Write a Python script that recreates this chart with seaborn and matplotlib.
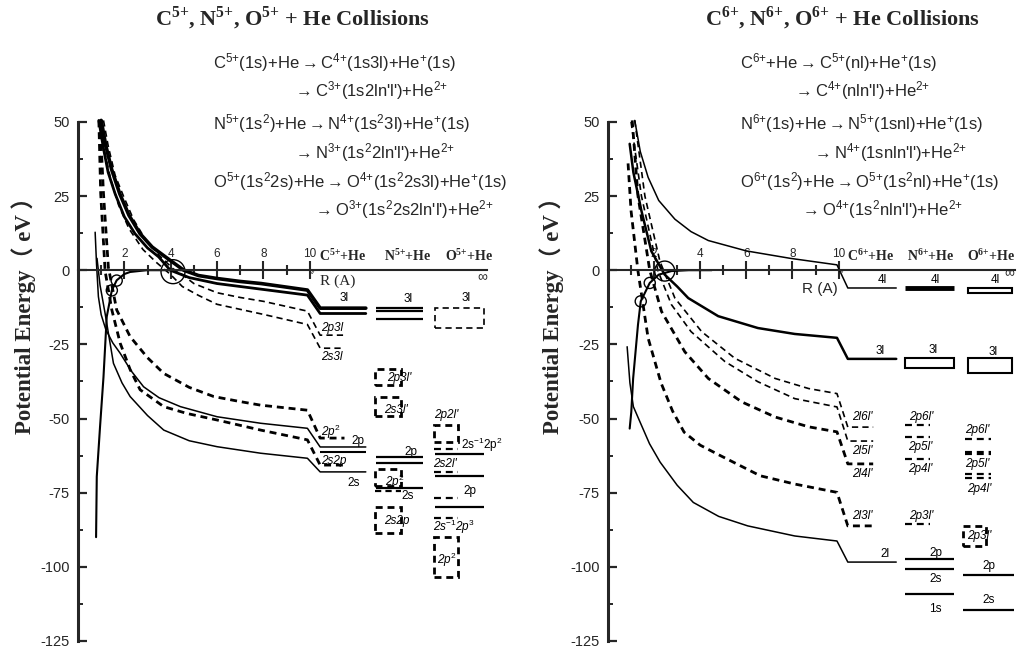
import matplotlib
matplotlib.use('Agg')
import matplotlib.pyplot as plt
import seaborn as sns
from matplotlib.patches import Rectangle

sns.set_style('white')
plt.rcParams['font.family'] = ['Liberation Sans', 'DejaVu Sans']
plt.rcParams['mathtext.fontset'] = 'custom'
plt.rcParams['mathtext.rm'] = 'Liberation Sans'
plt.rcParams['mathtext.it'] = 'Liberation Sans:italic'
plt.rcParams['mathtext.bf'] = 'Liberation Serif:bold'
plt.rcParams['lines.scale_dashes'] = False

# ---------------- data: left panel (C5+, N5+, O5+ + He) ----------------
L_A_R = [1.0, 1.2, 1.45, 1.8, 2.2, 2.68, 3.2, 3.77, 4.56, 5.2, 6.0, 7.0, 7.9, 9.9]
L_A_E = [50.5, 42, 34, 25.8, 18.5, 12.3, 7.8, 4.5, 0, -1.8, -2.8, -3.8, -4.5, -6.7]
L_B_R = [0.9, 1.1, 1.3, 1.6, 2.0, 2.46, 3.0, 3.48, 3.98, 4.8, 6.0, 7.0, 7.9, 9.9]
L_B_E = [50.5, 41, 33, 25.8, 18, 12.3, 7.5, 4.5, 0, -2.5, -4.5, -5.5, -6.4, -8.4]
L_D1_R = [1.1, 1.3, 1.6, 1.96, 2.4, 2.9, 3.5, 4.1, 4.5, 5.0, 6.0, 7.0, 8.0, 9.9]
L_D1_E = [50.5, 42, 32, 25, 17, 10.5, 5, 0.5, -1.5, -4.5, -7.6, -9.2, -10.5, -13.8]
L_D2_R = [0.95, 1.15, 1.4, 1.75, 2.2, 2.8, 3.4, 4.0, 4.5, 5.2, 6.0, 7.0, 8.0, 9.9]
L_D2_E = [50.5, 40, 31, 22, 14, 7, 2.5, -1.5, -5.5, -8.5, -11.5, -13.2, -14.9, -18.3]
L_TD1_R = [0.95, 1.1, 1.31, 1.67, 2.25, 3.0, 3.7, 4.8, 5.86, 7.0, 7.88, 9.9]
L_TD1_E = [50.5, 25.8, 1, -13.4, -22.4, -29.5, -34.8, -39.5, -42.6, -44.3, -45.5, -47.2]
L_TD2_R = [0.9, 0.98, 1.17, 1.46, 1.82, 2.25, 2.68, 3.7, 4.7, 6.0, 7.88, 9.9]
L_TD2_E = [50.5, 25.8, -0.3, -13.4, -24.6, -33.5, -40.3, -46, -48.3, -50.5, -53.9, -57.2]
L_S1_R = [0.74, 0.8, 0.88, 1.0, 1.2, 1.5, 1.82, 2.3, 2.83, 3.5, 4.42, 6.0, 7.88, 9.9]
L_S1_E = [12.8, 2, -8.9, -15, -20, -24.5, -28, -34, -39.3, -43, -46, -49.4, -51.6, -53.3]
L_S2_R = [0.82, 0.95, 1.17, 1.53, 1.9, 2.25, 3.0, 3.7, 4.8, 6.0, 7.88, 9.9]
L_S2_E = [4, -5, -14.6, -31.4, -38, -42.6, -49, -53.9, -57.5, -59.5, -61.7, -63.4]
L_ENT_R = [0.78, 0.81, 0.95, 1.1, 1.24, 1.46, 1.67, 2.0, 2.25, 2.97, 4.5]
L_ENT_E = [-90, -69.6, -52.9, -36, -15.7, -6.8, -3.4, -1.3, -0.6, 0, 0]
# asymptotic levels (eV) reached by the curves in the C5+ column
L_C_LEVELS = {'A': -12.8, 'B': -14.6, 'D1': -21.9, 'D2': -26.3,
              'TD1': -56.6, 'TD2': -65.7, 'S1': -59.6, 'S2': -68.0}
L_C_EXTRA = [-61.3]
L_N_SOLID = [-12.9, -13.8, -16.5, -63.1, -65.1, -73.3]
L_N_DASH = [-74.4]
L_N_BOX = [(-38.7, -33.3), (-49.2, -42.8), (-72.7, -67.0), (-88.6, -79.8)]
L_O_SOLID = [-62.0, -69.3, -80.0]
L_O_DASH = [-60.3, -67.9, -76.9, -83.4]
L_O_BOX_WIDE = [(-19.5, -12.8)]
L_O_BOX = [(-57.9, -52.2), (-103.4, -90.0)]
L_CIRC_R = [4.1, 1.46, 1.67]
L_CIRC_E = [-0.5, -6.8, -3.5]

# ---------------- data: right panel (C6+, N6+, O6+ + He) ----------------
R_4L_R = [1.16, 1.4, 1.74, 2.2, 2.9, 3.6, 4.35, 6.0, 7.9, 9.93]
R_4L_E = [50.5, 40, 31.3, 23.5, 17.2, 13, 10.0, 6.5, 4.0, 1.8]
R_3L_R = [0.94, 1.1, 1.45, 1.88, 2.46, 3.0, 3.48, 4.78, 6.5, 8.1, 9.93]
R_3L_E = [42.6, 33, 20, 6.4, -1.5, -5.5, -9.4, -15.5, -19.5, -21.5, -22.8]
R_DA_R = [1.16, 1.6, 2.25, 2.9, 4.06, 5.5, 7.25, 8.7, 9.93]
R_DA_E = [50.5, 25, 3, -9.4, -20.7, -29.7, -36.5, -39.9, -41.6]
R_DB_R = [1.0, 1.45, 2.17, 2.75, 3.6, 5.07, 6.5, 8.1, 9.93]
R_DB_E = [50, 25, -0.3, -11.6, -20.7, -30.8, -37.6, -43.3, -46.1]
R_DC_R = [1.05, 1.3, 1.81, 2.32, 3.33, 4.35, 5.8, 7.25, 8.7, 9.93]
R_DC_E = [50.5, 25, 0, -13.9, -27.5, -36.5, -44.4, -49.5, -52.8, -54.5]
R_DD_R = [0.87, 1.0, 1.3, 1.74, 2.3, 2.8, 3.3, 4.0, 4.87, 6.6, 8.1, 9.93]
R_DD_E = [36, 20, -0.3, -22.9, -38, -47.5, -54.6, -59, -62.5, -69.3, -72.1, -74.9]
R_S_R = [0.83, 0.95, 1.1, 1.39, 1.8, 2.26, 3.0, 3.7, 4.8, 6.06, 8.1, 9.93]
R_S_E = [-25.8, -38, -46, -51.2, -58.5, -64.7, -72.5, -78.3, -83, -86.2, -89.6, -91.3]
R_ENT_R = [0.94, 1.01, 1.09, 1.3, 1.42, 1.81, 2.2, 2.75, 3.5, 4.5]
R_ENT_E = [-53.4, -47.8, -36.5, -18.4, -10.5, -4.3, -1.5, -0.3, 0, 0]
R_C_LEVELS = {'4L': -6.0, '3L': -29.9, 'DA': -52.9, 'DB': -57.6,
              'DC': -65.3, 'DD': -86.2, 'S': -98.4}
R_N_BAR = [-6.0]
R_N_BOX = [(-33.1, -29.7)]
R_N_DASH = [-52.1, -56.3, -63.8, -85.7]
R_N_SOLID = [-97.5, -100.9, -109.0]
R_O_BOX_WIDE = [(-7.7, -6.0), (-34.5, -29.7)]
R_O_DASH = [-56.8, -68.7, -70.1]
R_O_DASH_THICK = [-61.6]
R_O_BOX = [(-92.9, -86.1)]
R_O_SOLID = [-102.6, -114.5]
R_CIRC_R = [2.46, 1.81, 1.42]
R_CIRC_E = [-0.3, -4.3, -10.5]

MAJOR_R = [2, 4, 6, 8, 10]
MINOR_R = [1, 3, 5, 7, 9]
Y_MAJOR = [50, 25, 0, -25, -50, -75, -100, -125]
Y_MINOR = [37.5, 12.5, -12.5, -37.5, -62.5, -87.5, -112.5]

# ---------------- styles ----------------
SOLID_THICK = dict(lw=2.0, ls='-')
SOLID_MED = dict(lw=1.5, ls='-')
SOLID_THIN = dict(lw=1.1, ls='-')
DASH_THIN = dict(lw=1.2, ls=(0, (4.5, 3)))
DASH_THICK = dict(lw=2.0, ls=(0, (5, 3.5)))

fig = plt.figure(figsize=(10.17, 6.52), dpi=100)
axL = fig.add_axes([78 / 1017, 0.0169, 409 / 1017, 0.803])
axR = fig.add_axes([608 / 1017, 0.0169, 407 / 1017, 0.803])

serif = 'Liberation Serif'


def curve(ax, R, E, lvl, x0, x1, style):
    xs = list(R) + ([x0, x1] if lvl is not None else [])
    ys = list(E) + ([lvl, lvl] if lvl is not None else [])
    sns.lineplot(x=xs, y=ys, ax=ax, sort=False, estimator=None, color='black',
                 linewidth=style['lw'], linestyle=style['ls'])


def boxes(ax, spans, x0, x1, style):
    for lo, hi in spans:
        ax.add_patch(Rectangle((x0, lo), x1 - x0, hi - lo, fill=False, edgecolor='black',
                               linewidth=style['lw'], linestyle=style['ls']))


def setup(ax):
    ax.set_xlim(0, 17.65)
    ax.set_ylim(-125, 51.5)
    ax.spines['right'].set_visible(False)
    ax.spines['bottom'].set_visible(False)
    ax.spines['left'].set_bounds(-125, 50)
    ax.spines['left'].set_linewidth(2.2)
    ax.spines['top'].set_position(('data', 0))
    ax.spines['top'].set_linewidth(1.5)
    ax.xaxis.set_ticks_position('top')
    ax.set_xticks(MAJOR_R)
    ax.set_xticks(MINOR_R, minor=True)
    ax.set_xticklabels([str(v) for v in MAJOR_R])
    ax.tick_params(axis='x', which='major', direction='inout', length=13, width=1.5,
                   labelsize=8.5, pad=1, top=True, bottom=False, labeltop=True, labelbottom=False)
    ax.tick_params(axis='x', which='minor', direction='inout', length=7, width=1.5,
                   top=True, bottom=False)
    ax.set_yticks(Y_MAJOR)
    ax.set_yticks(Y_MINOR, minor=True)
    ax.set_yticklabels([str(v) for v in Y_MAJOR])
    ax.tick_params(axis='y', which='major', direction='in', length=6.5, width=1.6,
                   labelsize=10.5, pad=6, left=True)
    ax.tick_params(axis='y', which='minor', direction='in', length=3.5, width=1.4, left=True)
    ax.set_xlabel('')
    ax.set_ylabel('')
    ax.patch.set_alpha(0)


# ---------------- left panel ----------------
ax = axL
LC, LC_S = (10.45, 12.42), (10.45, 11.5)
LN, LN_S = (12.85, 14.9), (12.8, 13.95)
LO, LO_S = (15.4, 17.5), (15.35, 16.4)
curve(ax, L_A_R, L_A_E, L_C_LEVELS['A'], *LC, dict(lw=2.6, ls='-'))
curve(ax, L_B_R, L_B_E, L_C_LEVELS['B'], *LC, SOLID_THICK)
curve(ax, L_D1_R, L_D1_E, L_C_LEVELS['D1'], *LC_S, DASH_THIN)
curve(ax, L_D2_R, L_D2_E, L_C_LEVELS['D2'], *LC_S, DASH_THIN)
curve(ax, L_TD1_R, L_TD1_E, L_C_LEVELS['TD1'], *LC_S, DASH_THICK)
curve(ax, L_TD2_R, L_TD2_E, L_C_LEVELS['TD2'], *LC_S, DASH_THICK)
curve(ax, L_S1_R, L_S1_E, L_C_LEVELS['S1'], *LC, SOLID_THIN)
curve(ax, L_S2_R, L_S2_E, L_C_LEVELS['S2'], *LC, SOLID_THIN)
curve(ax, L_ENT_R, L_ENT_E, None, 0, 0, SOLID_MED)
ax.hlines(L_C_EXTRA, *LC, color='black', lw=1.5)
ax.hlines(L_N_SOLID, *LN, color='black', lw=1.6)
ax.hlines(L_N_DASH, *LN_S, color='black', lw=1.6, linestyles=[DASH_THIN['ls']])
boxes(ax, L_N_BOX, *LN_S, DASH_THICK)
ax.hlines(L_O_SOLID, *LO, color='black', lw=1.6)
ax.hlines(L_O_DASH, *LO_S, color='black', lw=1.6, linestyles=[DASH_THICK['ls']])
boxes(ax, L_O_BOX_WIDE, *LO, DASH_THIN)
boxes(ax, L_O_BOX, *LO_S, DASH_THICK)
sns.scatterplot(x=L_CIRC_R[:1], y=L_CIRC_E[:1], ax=ax, s=24 ** 2 / 1.93, marker='o',
                facecolors='none', edgecolor='black', linewidth=1.0)
sns.scatterplot(x=L_CIRC_R[1:], y=L_CIRC_E[1:], ax=ax, s=8 ** 2, marker='o',
                facecolors='none', edgecolor='black', linewidth=1.0)
setup(ax)

lab = dict(fontsize=8.5, color='black')
itl = dict(fontsize=8.5, color='black', fontstyle='italic')
ax.text(11.47, -9.4, '3l', ha='center', va='center', **lab)
ax.text(10.5, -19.5, '2p3l', ha='left', va='center', **itl)
ax.text(10.5, -29.3, '2s3l', ha='left', va='center', **itl)
ax.text(10.5, -54.5, r'2p$^{\mathit{2}}$', ha='left', va='center', **itl)
ax.text(12.1, -57.6, '2p', ha='center', va='center', **lab)
ax.text(10.5, -64.3, '2s2p', ha='left', va='center', **itl)
ax.text(11.9, -71.7, '2s', ha='center', va='center', **lab)
ax.text(14.24, -9.8, '3l', ha='center', va='center', **lab)
ax.text(13.33, -36.4, "2p3l'", ha='left', va='center', **itl)
ax.text(13.2, -47.1, "2s3l'", ha='left', va='center', **itl)
ax.text(14.37, -61.3, '2p', ha='center', va='center', **lab)
ax.text(13.25, -71.4, r'2p$^{\mathit{2}}$', ha='left', va='center', **itl)
ax.text(14.24, -76.1, '2s', ha='center', va='center', **lab)
ax.text(13.2, -84.5, '2s2p', ha='left', va='center', **itl)
ax.text(16.75, -9.4, '3l', ha='center', va='center', **lab)
ax.text(15.37, -48.8, "2p2l'", ha='left', va='center', **itl)
ax.text(16.54, -58.9, r'2s$^{-1}$2p$^{2}$', ha='left', va='center', **lab)
ax.text(15.32, -65.3, "2s2l'", ha='left', va='center', **itl)
ax.text(16.9, -74.4, '2p', ha='center', va='center', **lab)
ax.text(15.32, -86.5, r'2s$^{\mathit{-1}}$2p$^{\mathit{3}}$', ha='left', va='center', **itl)
ax.text(15.5, -97.6, r'2p$^{\mathit{2}}$', ha='left', va='center', **itl)
hdr = dict(fontsize=10, fontweight='bold', family=serif, ha='center', va='center')
ax.text(11.43, 5, r'C$^{\mathbf{5{+}}}$+He', **hdr)
ax.text(14.24, 5, r'N$^{\mathbf{5{+}}}$+He', **hdr)
ax.text(16.88, 5, r'O$^{\mathbf{5{+}}}$+He', **hdr)
ax.text(11.2, -3.7, 'R (A)', fontsize=11, family=serif, ha='center', va='center')
ax.text(17.45, -2.0, r'$\infty$', fontsize=10, ha='center', va='center')
ax.text(10.15, -0.8, '//', fontsize=6, fontstyle='italic', ha='center', va='center')

# ---------------- right panel ----------------
ax = axR
RC, RC_S = (10.4, 12.5), (10.4, 11.5)
RN, RN_S = (12.9, 15.0), (12.9, 13.95)
RO, RO_S = (15.4, 17.6), (15.5, 16.6)
RO_B = (15.6, 17.5)
curve(ax, R_4L_R, R_4L_E, R_C_LEVELS['4L'], *RC, SOLID_THIN)
curve(ax, R_3L_R, R_3L_E, R_C_LEVELS['3L'], *RC, dict(lw=1.8, ls='-'))
curve(ax, R_DA_R, R_DA_E, R_C_LEVELS['DA'], *RC_S, DASH_THIN)
curve(ax, R_DB_R, R_DB_E, R_C_LEVELS['DB'], *RC_S, DASH_THIN)
curve(ax, R_DC_R, R_DC_E, R_C_LEVELS['DC'], *RC_S, DASH_THICK)
curve(ax, R_DD_R, R_DD_E, R_C_LEVELS['DD'], *RC_S, DASH_THICK)
curve(ax, R_S_R, R_S_E, R_C_LEVELS['S'], *RC, SOLID_THIN)
curve(ax, R_ENT_R, R_ENT_E, None, 0, 0, SOLID_MED)
ax.hlines(R_N_BAR, *RN, color='black', lw=3.5)
boxes(ax, R_N_BOX, *RN, SOLID_MED)
ax.hlines(R_N_DASH, *RN_S, color='black', lw=1.6, linestyles=[DASH_THICK['ls']])
ax.hlines(R_N_SOLID, *RN, color='black', lw=1.6)
boxes(ax, R_O_BOX_WIDE, *RO_B, SOLID_MED)
ax.hlines(R_O_DASH, *RO_S, color='black', lw=1.6, linestyles=[DASH_THICK['ls']])
ax.hlines(R_O_DASH_THICK, *RO_S, color='black', lw=3.0, linestyles=[DASH_THICK['ls']])
boxes(ax, R_O_BOX, 15.4, 16.4, DASH_THICK)
ax.hlines(R_O_SOLID, *RO, color='black', lw=1.6)
sns.scatterplot(x=R_CIRC_R[:1], y=R_CIRC_E[:1], ax=ax, s=20 ** 2 / 1.93, marker='o',
                facecolors='none', edgecolor='black', linewidth=1.0)
sns.scatterplot(x=R_CIRC_R[1:], y=R_CIRC_E[1:], ax=ax, s=8 ** 2, marker='o',
                facecolors='none', edgecolor='black', linewidth=1.0)
setup(ax)

ax.text(11.9, -3.4, '4l', ha='center', va='center', **lab)
ax.text(14.2, -3.4, '4l', ha='center', va='center', **lab)
ax.text(16.8, -3.4, '4l', ha='center', va='center', **lab)
ax.text(11.8, -27.1, '3l', ha='center', va='center', **lab)
ax.text(14.1, -26.8, '3l', ha='center', va='center', **lab)
ax.text(16.7, -27.5, '3l', ha='center', va='center', **lab)
ax.text(10.6, -49.5, "2l6l'", ha='left', va='center', **itl)
ax.text(10.6, -61.0, "2l5l'", ha='left', va='center', **itl)
ax.text(10.6, -68.8, "2l4l'", ha='left', va='center', **itl)
ax.text(10.6, -83.0, "2l3l'", ha='left', va='center', **itl)
ax.text(12.0, -95.6, '2l', ha='center', va='center', **lab)
ax.text(13.04, -49.5, "2p6l'", ha='left', va='center', **itl)
ax.text(13.0, -59.7, "2p5l'", ha='left', va='center', **itl)
ax.text(13.0, -67.0, "2p4l'", ha='left', va='center', **itl)
ax.text(13.04, -83.0, "2p3l'", ha='left', va='center', **itl)
ax.text(14.2, -95.3, '2p', ha='center', va='center', **lab)
ax.text(14.2, -104.0, '2s', ha='center', va='center', **lab)
ax.text(14.2, -114.2, '1s', ha='center', va='center', **lab)
ax.text(15.5, -54.0, "2p6l'", ha='left', va='center', **itl)
ax.text(15.5, -65.4, "2p5l'", ha='left', va='center', **itl)
ax.text(15.55, -73.9, "2p4l'", ha='left', va='center', **itl)
ax.text(15.55, -89.5, "2p3l'", ha='left', va='center', **itl)
ax.text(16.5, -99.7, '2p', ha='center', va='center', **lab)
ax.text(16.5, -111.2, '2s', ha='center', va='center', **lab)
ax.text(11.4, 5, r'C$^{\mathbf{6{+}}}$+He', **hdr)
ax.text(14.0, 5, r'N$^{\mathbf{6{+}}}$+He', **hdr)
ax.text(16.6, 5, r'O$^{\mathbf{6{+}}}$+He', **hdr)
ax.text(9.2, -6.4, 'R (A)', fontsize=11, ha='center', va='center')
ax.text(17.4, -0.8, r'$\infty$', fontsize=10, ha='center', va='center')
ax.text(10.15, -0.8, '//', fontsize=6, fontstyle='italic', ha='center', va='center')

# ---------------- titles, reactions, y labels ----------------
H = 652.0
W = 1017.0
tt = dict(fontsize=16, fontweight='bold', family=serif, ha='center', va='center')
fig.text(292 / W, 1 - 18 / H, r'C$^{\mathbf{5{+}}}$, N$^{\mathbf{5{+}}}$, O$^{\mathbf{5{+}}}$ + He Collisions', **tt)
fig.text(842 / W, 1 - 18 / H, r'C$^{\mathbf{6{+}}}$, N$^{\mathbf{6{+}}}$, O$^{\mathbf{6{+}}}$ + He Collisions', **tt)

LEFT_REACT = [r'C$^{5{+}}$(1s)+He$\rightarrow$C$^{4{+}}$(1s3l)+He$^{{+}}$(1s)',
              r"$\rightarrow$C$^{3{+}}$(1s2ln'l')+He$^{2{+}}$",
              r'N$^{5{+}}$(1s$^{2}$)+He$\rightarrow$N$^{4{+}}$(1s$^{2}$3l)+He$^{{+}}$(1s)',
              r"$\rightarrow$N$^{3{+}}$(1s$^{2}$2ln'l')+He$^{2{+}}$",
              r'O$^{5{+}}$(1s$^{2}$2s)+He$\rightarrow$O$^{4{+}}$(1s$^{2}$2s3l)+He$^{{+}}$(1s)',
              r"$\rightarrow$O$^{3{+}}$(1s$^{2}$2s2ln'l')+He$^{2{+}}$"]
RIGHT_REACT = [r'C$^{6{+}}$+He$\rightarrow$C$^{5{+}}$(nl)+He$^{{+}}$(1s)',
               r"$\rightarrow$C$^{4{+}}$(nln'l')+He$^{2{+}}$",
               r'N$^{6{+}}$(1s)+He$\rightarrow$N$^{5{+}}$(1snl)+He$^{{+}}$(1s)',
               r"$\rightarrow$N$^{4{+}}$(1snln'l')+He$^{2{+}}$",
               r'O$^{6{+}}$(1s$^{2}$)+He$\rightarrow$O$^{5{+}}$(1s$^{2}$nl)+He$^{{+}}$(1s)',
               r"$\rightarrow$O$^{4{+}}$(1s$^{2}$nln'l')+He$^{2{+}}$"]
LX = [213, 293, 213, 293, 213, 313]
RX = [740, 793, 740, 812, 740, 800]
YS = [63, 91, 124, 153, 182, 210]
for s, x, y in zip(LEFT_REACT, LX, YS):
    fig.text(x / W, 1 - y / H, s, fontsize=12, ha='left', va='center')
for s, x, y in zip(RIGHT_REACT, RX, YS):
    fig.text(x / W, 1 - y / H, s, fontsize=12, ha='left', va='center')

yl = dict(fontsize=16.5, fontweight='bold', family=[serif, 'Noto Sans CJK SC'], rotation=90,
          ha='center', va='center')
fig.text(24 / W, 1 - 310 / H, 'Potential Energy（ eV ）', **yl)
fig.text(552 / W, 1 - 310 / H, 'Potential Energy（ eV ）', **yl)

fig.savefig('out.png', dpi=100)
